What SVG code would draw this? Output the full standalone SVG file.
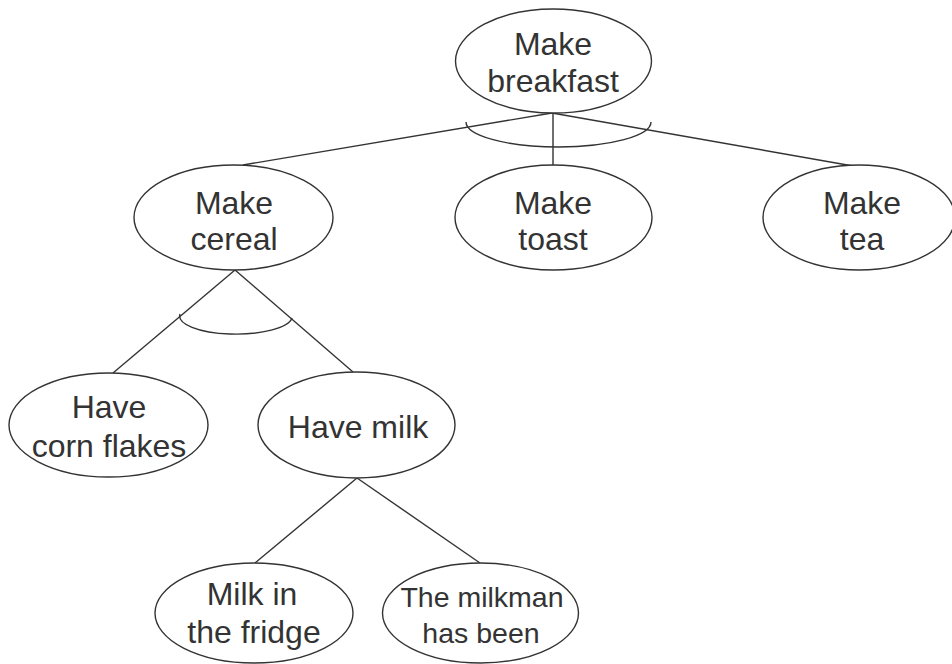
<svg xmlns="http://www.w3.org/2000/svg" width="952" height="664" viewBox="0 0 952 664">
  <style>
    .node ellipse { fill: #ffffff; stroke: #333333; stroke-width: 1.4; }
    .node text { font-family: "Liberation Sans", Arial, sans-serif; font-size: 32px; fill: #333333; text-anchor: middle; }
    .node text.small { font-size: 28.5px; }
    #connectors line, #connectors path { fill: none; stroke: #333333; stroke-width: 1.4; }
  </style>
  <rect width="952" height="664" fill="#ffffff"/>

  <!-- connectors and AND arcs -->
  <g id="connectors">
    <line x1="552" y1="113" x2="243" y2="165"/>
    <line x1="553" y1="113" x2="553" y2="165"/>
    <line x1="552" y1="113" x2="853" y2="166"/>
    <path d="M466,122 A92.5,25 0 0 0 651,122"/>
    <line x1="235" y1="270" x2="113" y2="373"/>
    <line x1="235" y1="270" x2="353" y2="372"/>
    <path d="M180,314 A56,18 0 0 0 292,318"/>
    <line x1="357" y1="478" x2="255" y2="563"/>
    <line x1="357" y1="478" x2="480" y2="563"/>
  </g>

  <g id="make-breakfast" class="node">
    <ellipse cx="553.5" cy="61" rx="98" ry="52"/>
    <text x="553" y="55">Make</text>
    <text x="553" y="92">breakfast</text>
  </g>

  <g id="make-cereal" class="node">
    <ellipse cx="233.5" cy="217.5" rx="99.5" ry="52.5"/>
    <text x="234" y="214">Make</text>
    <text x="234" y="250">cereal</text>
  </g>

  <g id="make-toast" class="node">
    <ellipse cx="553.5" cy="217.5" rx="98.5" ry="52.5"/>
    <text x="553" y="214">Make</text>
    <text x="553" y="250">toast</text>
  </g>

  <g id="make-tea" class="node">
    <ellipse cx="859" cy="217.5" rx="96" ry="52.5"/>
    <text x="862" y="214">Make</text>
    <text x="862" y="250">tea</text>
  </g>

  <g id="have-corn-flakes" class="node">
    <ellipse cx="108.5" cy="425" rx="99.5" ry="52"/>
    <text x="109" y="418">Have</text>
    <text x="109" y="457">corn flakes</text>
  </g>

  <g id="have-milk" class="node">
    <ellipse cx="356.5" cy="425" rx="98.5" ry="53"/>
    <text x="358" y="438">Have milk</text>
  </g>

  <g id="milk-in-the-fridge" class="node">
    <ellipse cx="254" cy="613" rx="99" ry="50"/>
    <text x="252" y="605">Milk in</text>
    <text x="254" y="643">the fridge</text>
  </g>

  <g id="milkman-has-been" class="node">
    <ellipse cx="480.5" cy="613" rx="98" ry="50"/>
    <text class="small" x="482" y="607">The milkman</text>
    <text class="small" x="481" y="643">has been</text>
  </g>
</svg>
